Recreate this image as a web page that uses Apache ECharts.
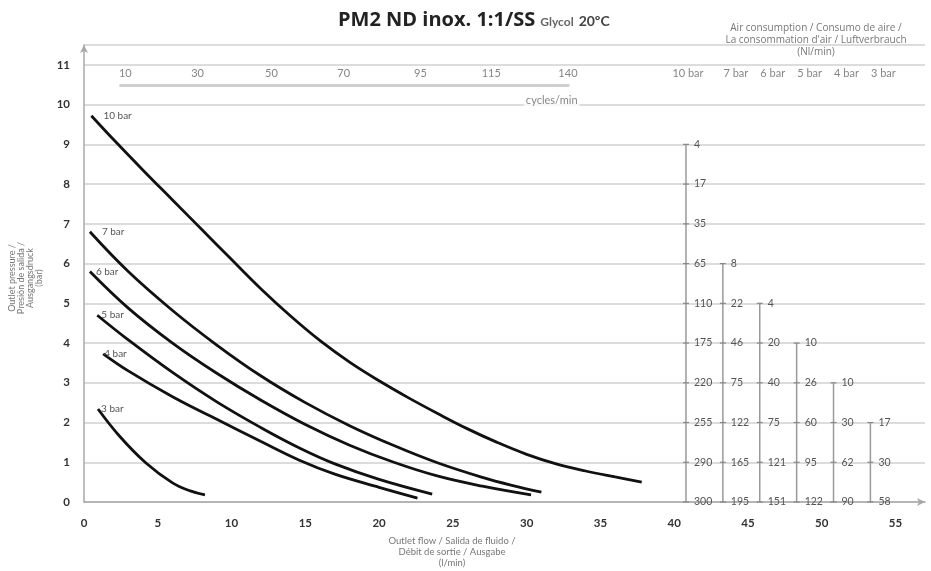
<!DOCTYPE html>
<html><head><meta charset="utf-8">
<script src="https://cdn.jsdelivr.net/npm/echarts@6/dist/echarts.min.js"></script>
<style>html,body{margin:0;padding:0;background:#fff}#c{width:931px;height:571px}</style>
</head><body><div id="c"></div>
<script>
// ---- Pump curves: [flow l/min, outlet pressure bar]
const curveNames = ['10 bar', '7 bar', '6 bar', '5 bar', '4 bar', '3 bar'];
const curve10 = [[0.5,9.72],[2,9.12],[4,8.35],[6,7.6],[8,6.85],[10,6.1],[12,5.36],[14,4.68],[16,4.06],[18,3.52],[20,3.05],[22,2.62],[24,2.22],[26,1.84],[28,1.5],[30,1.2],[32,0.96],[34,0.78],[36,0.63],[37.8,0.5]];
const curve7 = [[0.4,6.8],[3,5.8],[6,4.82],[9,3.95],[12,3.17],[15,2.5],[18,1.92],[21,1.42],[24,0.98],[27,0.62],[29,0.42],[31,0.25]];
const curve6 = [[0.4,5.8],[3,4.88],[6,4.0],[9,3.24],[12,2.56],[15,1.95],[18,1.43],[21,1.0],[24,0.65],[27,0.4],[30.3,0.18]];
const curve5 = [[0.9,4.7],[3,4.08],[6,3.26],[9,2.52],[12,1.87],[14.6,1.36],[17,0.96],[20,0.57],[23.6,0.2]];
const curve4 = [[1.3,3.73],[3,3.3],[6,2.65],[9,2.08],[12,1.52],[14.6,1.05],[17,0.7],[20,0.37],[22.6,0.1]];
const curve3 = [[0.95,2.34],[2.4,1.66],[4.2,0.98],[6,0.48],[7.2,0.28],[8.2,0.18]];

// ---- Cycles/min scale (flow positions of each cycle rate)
const cyclesLabels = ['10', '30', '50', '70', '95', '115', '140'];
const cyclesFlow = [2.8, 7.7, 12.7, 17.6, 22.8, 27.6, 32.8];

// ---- Air consumption (Nl/min) by supply pressure, rows from top pressure down to 0 bar
const airHeaders = ['10 bar', '7 bar', '6 bar', '5 bar', '4 bar', '3 bar'];
const airColX = [40.8, 43.3, 45.8, 48.3, 50.8, 53.3];
const airTop = [9, 6, 5, 4, 3, 2];
const air10 = [4, 17, 35, 65, 110, 175, 220, 255, 290, 300];
const air7 = [8, 22, 46, 75, 122, 165, 195];
const air6 = [4, 20, 40, 75, 121, 151];
const air5 = [10, 26, 60, 95, 122];
const air4 = [10, 30, 62, 90];
const air3 = [17, 30, 58];

// ---- Axis ticks
const xTicks = [0, 5, 10, 15, 20, 25, 30, 35, 40, 45, 50, 55];
const yTicks = [0, 1, 2, 3, 4, 5, 6, 7, 8, 9, 10, 11];

const FONT = 'Lato, "Open Sans", sans-serif';
const curves = [curve10, curve7, curve6, curve5, curve4, curve3];
const airCols = [air10, air7, air6, air5, air4, air3];
const nameDist = [12, 12, 6, 4, 1, 3];

const series = [];
curves.forEach((c, k) => {
  series.push({
    type: 'line', smooth: 0.4, silent: true, symbol: 'circle', symbolSize: 0.01, showSymbol: true,
    itemStyle: { color: '#111' },
    lineStyle: { color: '#111', width: 2.8 },
    labelLayout: { hideOverlap: false },
    data: c.map((p, i) => i === 0 ? {
      value: p,
      label: { show: true, position: 'right', distance: nameDist[k],
        formatter: curveNames[k], color: '#555', fontSize: 10, fontFamily: FONT }
    } : p)
  });
});

// cycles/min scale line
series.push({
  type: 'line', silent: true, symbol: 'none',
  lineStyle: { color: '#cfcfcf', width: 3 },
  data: [[cyclesFlow[0] - 0.4, 10.48], [cyclesFlow[cyclesFlow.length - 1] + 0.1, 10.48]]
});
series.push({
  type: 'scatter', silent: true, symbolSize: 0,
  data: cyclesFlow.map((x, i) => [x, 10.78]),
  label: { show: true, position: 'inside', formatter: p => cyclesLabels[p.dataIndex],
    color: '#666', fontSize: 11, fontFamily: FONT }
});
series.push({
  type: 'scatter', silent: true, symbolSize: 0,
  data: [[cyclesFlow[cyclesFlow.length - 1] - 1.1, 10.1]],
  label: { show: true, position: 'inside', formatter: 'cycles/min',
    color: '#666', fontSize: 11, fontFamily: FONT, backgroundColor: '#fff', padding: [0, 2] }
});

// air consumption columns
airCols.forEach((vals, k) => {
  series.push({
    type: 'line', silent: true, symbol: 'rect', symbolSize: [6, 1.2], showSymbol: true,
    itemStyle: { color: '#888' },
    lineStyle: { color: '#999', width: 1.5 },
    labelLayout: { hideOverlap: false },
    data: vals.map((v, i) => [airColX[k], airTop[k] - i]),
    label: { show: true, position: 'right', distance: 5,
      formatter: p => String(vals[p.dataIndex]),
      color: '#555', fontSize: 10.5, fontFamily: FONT }
  });
});
// air headers
series.push({
  type: 'scatter', silent: true, symbolSize: 0,
  data: airColX.map((x, i) => ({ value: [x, 10.78], label: { offset: [i === 0 ? 2 : 13, 0] } })),
  label: { show: true, position: 'inside', formatter: p => airHeaders[p.dataIndex],
    color: '#666', fontSize: 11, fontFamily: FONT }
});

const chart = echarts.init(document.getElementById('c'), null, { renderer: 'canvas' });
chart.setOption({
  animation: false,
  backgroundColor: '#fff',
  title: [{
    left: 333, top: 5,
    text: '{a|PM2 ND inox. 1:1/SS} {b|Glycol} {c|20ºC}',
    textStyle: { rich: {
      a: { fontSize: 20, fontWeight: 'bold', color: '#222', fontFamily: '"Open Sans", sans-serif' },
      b: { fontSize: 12, color: '#666', fontFamily: FONT, padding: [5, 0, 0, 0] },
      c: { fontSize: 14, color: '#444', fontFamily: FONT, padding: [3, 0, 0, 0] }
    } }
  }],
  graphic: [{
    type: 'text', x: 816, y: 22,
    style: { text: 'Air consumption / Consumo de aire /\nLa consommation d\'air / Luftverbrauch\n(Nl/min)',
      fill: '#777', fontSize: 10, fontFamily: '"Open Sans", sans-serif', align: 'center', lineHeight: 12 }
  }, {
    type: 'text', x: 452, y: 535,
    style: { text: 'Outlet flow / Salida de fluido /\nDébit de sortie / Ausgabe\n(l/min)',
      fill: '#777', fontSize: 9.5, fontFamily: FONT, align: 'center', lineHeight: 11 }
  }, {
    type: 'text', x: 26, y: 278, rotation: Math.PI / 2,
    style: { text: 'Outlet pressure /\nPresión de salida /\nAusgangsdruck\n(bar)',
      fill: '#777', fontSize: 9, fontFamily: FONT, align: 'center', verticalAlign: 'middle', lineHeight: 9 }
  }],
  grid: { left: 84, right: 6, top: 45, bottom: 69, containLabel: false, outerBoundsMode: 'none' },
  xAxis: {
    type: 'value', min: 0, max: 57, interval: 5,
    axisLine: { show: true, lineStyle: { color: '#a8a8a8', width: 1.5 }, symbol: ['none', 'arrow'], symbolSize: [6, 8] },
    axisTick: { show: false },
    splitLine: { show: false },
    axisLabel: { margin: 15, color: '#333', fontWeight: 'bold', fontSize: 11.5, fontFamily: FONT,
      showMaxLabel: false, formatter: v => xTicks.includes(v) ? String(v) : '' }
  },
  yAxis: {
    type: 'value', min: 0, max: 11.5, interval: 1,
    axisLine: { show: true, lineStyle: { color: '#a8a8a8', width: 1.5 }, symbol: ['none', 'arrow'], symbolSize: [6, 8] },
    axisTick: { show: false },
    splitLine: { show: true, lineStyle: { color: '#dcdcdc', width: 2 } },
    axisLabel: { margin: 14, color: '#333', fontWeight: 'bold', fontSize: 11.5, fontFamily: FONT,
      showMaxLabel: false, formatter: v => yTicks.includes(v) ? String(v) : '' }
  },
  series: series
});
</script></body></html>
